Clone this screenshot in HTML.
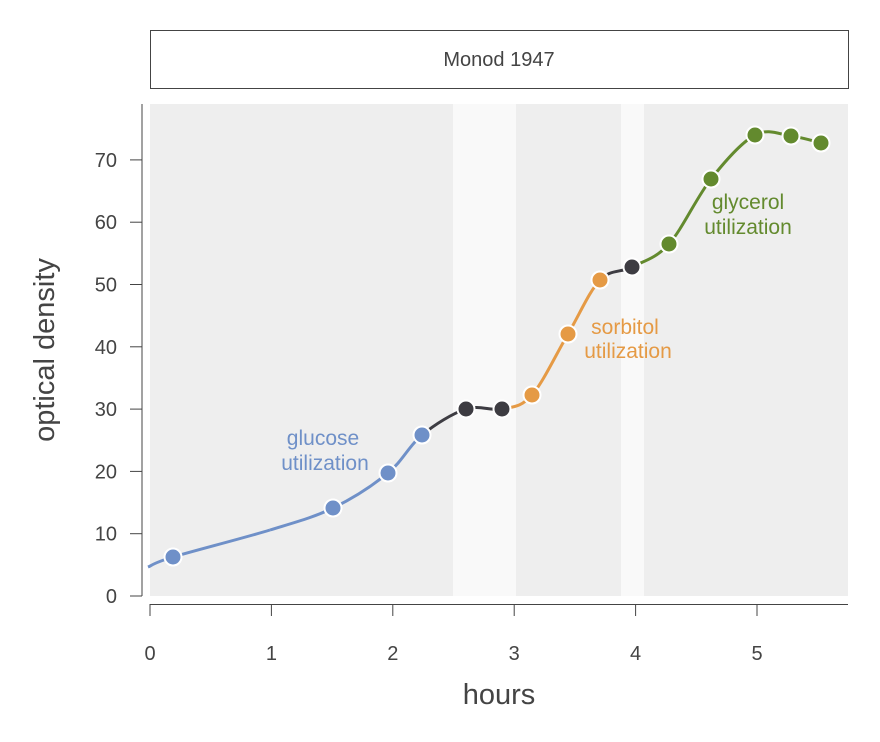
<!DOCTYPE html>
<html><head><meta charset="utf-8"><style>
html,body{margin:0;padding:0;background:#fff;}
svg{display:block;font-family:"Liberation Sans",sans-serif;}
</style></head><body>
<svg id="s" width="880" height="742" viewBox="0 0 880 742">
<rect x="150.5" y="30.5" width="698" height="58" fill="#fff" stroke="#444" stroke-width="1"/>
<text x="499" y="66" font-size="20" fill="#444" text-anchor="middle">Monod 1947</text>
<rect x="150" y="104" width="698" height="492" fill="#eeeeee"/>
<rect x="453" y="104" width="63" height="492" fill="#f9f9f9"/>
<rect x="621" y="104" width="23" height="492" fill="#f9f9f9"/>
<line x1="142" y1="104" x2="142" y2="596" stroke="#444" stroke-width="1"/>
<line x1="150" y1="604.5" x2="848" y2="604.5" stroke="#444" stroke-width="1"/>
<g id="yt" font-size="20" fill="#444" text-anchor="end"></g>
<g id="xt" font-size="20" fill="#444" text-anchor="middle"></g>
<text x="499" y="704" font-size="29" fill="#444" text-anchor="middle">hours</text>
<text transform="translate(54,350) rotate(-90)" font-size="29" fill="#444" text-anchor="middle">optical density</text>
<g id="lines" fill="none" stroke-width="3"></g>
<g id="pts"></g>
<text x="323" y="445" font-size="21" fill="#6f90c8" text-anchor="middle">glucose</text>
<text x="325" y="470" font-size="21" fill="#6f90c8" text-anchor="middle">utilization</text>
<text x="625" y="334" font-size="21" fill="#e59a45" text-anchor="middle">sorbitol</text>
<text x="628" y="358" font-size="21" fill="#e59a45" text-anchor="middle">utilization</text>
<text x="748" y="209" font-size="21" fill="#638a2e" text-anchor="middle">glycerol</text>
<text x="748" y="234" font-size="21" fill="#638a2e" text-anchor="middle">utilization</text>
</svg>
<script>
var NS="http://www.w3.org/2000/svg";
function el(t,a,p){var e=document.createElementNS(NS,t);for(var k in a)e.setAttribute(k,a[k]);document.getElementById(p).appendChild(e);return e;}
var yv=[0,10,20,30,40,50,60,70];
yv.forEach(function(v){var y=596-v*6.23;el("line",{x1:130,y1:y,x2:142,y2:y,stroke:"#444"},"yt");var t=el("text",{x:117,y:y+7},"yt");t.textContent=v;});
for(var i=0;i<=5;i++){var x=150+i*121.4;el("line",{x1:x,y1:604,x2:x,y2:616,stroke:"#444"},"xt");var t=el("text",{x:x,y:660},"xt");t.textContent=i;}
var B="#6f90c8",D="#3d3c42",O="#e59a45",G="#638a2e";
var P=[[148,567,B],[173,557,B],[270,530,B],[333,508,B],[388,473,B],[422,435,B],[466,409,D],[502,409,D],[532,395,O],[568,334,O],[600,280,O],[632,267,D],[669,244,G],[711,179,G],[755,135,G],[791,136,G],[821,143,G],[823,144,G]];
for(var i=0;i<P.length-1;i++){
 var p0=P[Math.max(i-1,0)],p1=P[i],p2=P[i+1],p3=P[Math.min(i+2,P.length-1)];
 var c1x=p1[0]+(p2[0]-p0[0])/6,c1y=p1[1]+(p2[1]-p0[1])/6,c2x=p2[0]-(p3[0]-p1[0])/6,c2y=p2[1]-(p3[1]-p1[1])/6;
 el("path",{d:"M"+p1[0]+","+p1[1]+"C"+c1x+","+c1y+" "+c2x+","+c2y+" "+p2[0]+","+p2[1],stroke:p2[2]},"lines");
}
for(var i=1;i<P.length-1;i++){if(i==2)continue;el("circle",{cx:P[i][0],cy:P[i][1],r:8.5,fill:P[i][2],stroke:"#fff","stroke-width":2},"pts");}
</script>
</body></html>
